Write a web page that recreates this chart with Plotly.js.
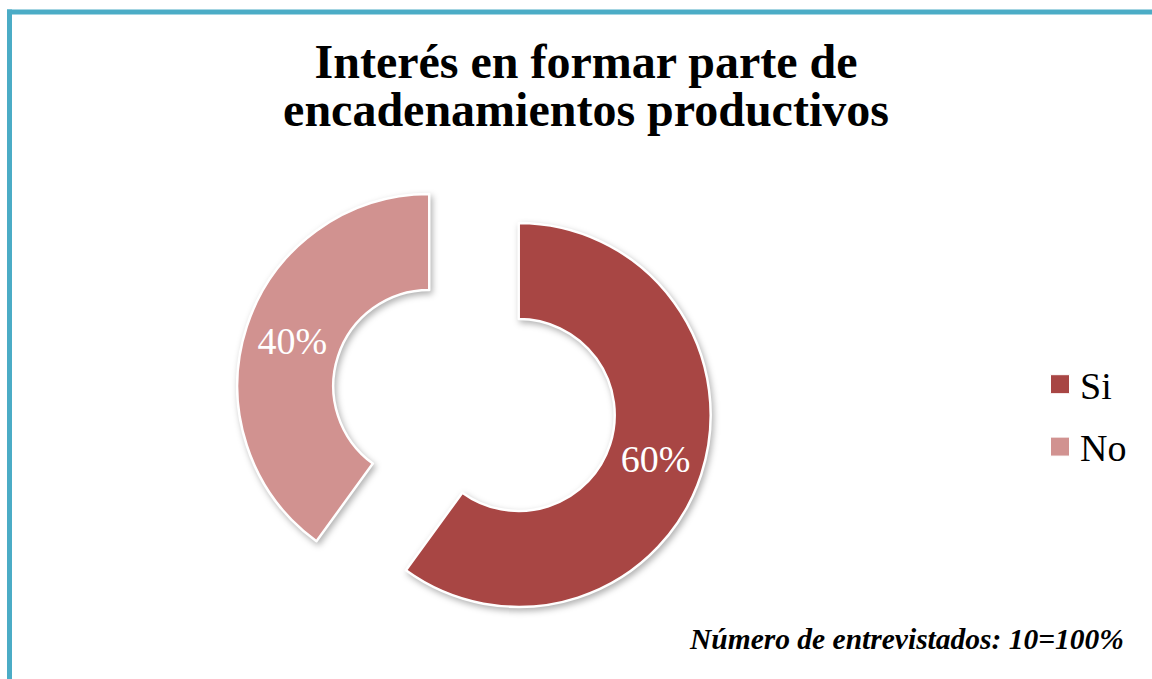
<!DOCTYPE html>
<html>
<head>
<meta charset="utf-8">
<script src="https://cdn.plot.ly/plotly-3.0.1.min.js"></script>
<style>
  html, body { margin: 0; padding: 0; background: #ffffff; }
  #chart { width: 1152px; height: 679px; }
  .slice path.surface { filter: drop-shadow(2px 3px 3px rgba(0,0,0,0.30)); }
  .legend path.legendpie { d: path("M9.5,9.5H-9.5V-9.5H9.5Z"); }
</style>
</head>
<body>
<div id="chart"></div>
<script>
// Data
const categories = ["Si", "No"];
const counts = [6, 4];
const sliceColors = ["#A84644", "#D19290"];
const titleText = "Interés en formar parte de<br>encadenamientos productivos";
const noteText = "<b><i>Número de entrevistados: 10=100%</i></b>";

const W = 1152, H = 679;
const SERIF = "'Liberation Serif', 'Times New Roman', serif";

const trace = {
  type: "pie",
  labels: categories,
  values: counts,
  sort: false,
  direction: "clockwise",
  rotation: 0,
  hole: 0.5,
  pull: [0.245, 0.245],
  marker: { colors: sliceColors, line: { color: "#ffffff", width: 2.5 } },
  textinfo: "percent",
  texttemplate: "%{percent:.0%}",
  textposition: "inside",
  insidetextorientation: "horizontal",
  textfont: { family: SERIF, size: 38, color: "#ffffff" },
  hoverinfo: "skip",
  domain: { x: [0.2040, 0.6189], y: [0.0582, 0.7622] }
};

const layout = {
  width: W, height: H,
  margin: { l: 0, r: 0, t: 0, b: 0, autoexpand: false },
  paper_bgcolor: "#ffffff",
  font: { family: SERIF, color: "#000000" },
  title: {
    text: "<b>" + titleText.replace("<br>", "</b><br><b>") + "</b>",
    font: { family: SERIF, size: 48, color: "#000000" },
    x: 0.5087, xanchor: "center", xref: "paper",
    y: 1 - 78 / H, yanchor: "top", yref: "container"
  },
  showlegend: true,
  legend: {
    x: 1040 / W, xanchor: "left",
    y: (H - 358) / H, yanchor: "top",
    font: { family: SERIF, size: 38, color: "#000000" },
    bgcolor: "rgba(0,0,0,0)",
    traceorder: "normal"
  },
  annotations: [{
    text: noteText,
    xref: "paper", yref: "paper",
    x: 1126 / W, xanchor: "right",
    y: (H - 657) / H, yanchor: "bottom",
    showarrow: false,
    font: { family: SERIF, size: 29.5, color: "#000000" }
  }],
  shapes: [
    { type: "line", xref: "paper", yref: "paper",
      x0: 7 / W, x1: 1, y0: 1 - 12 / H, y1: 1 - 12 / H,
      line: { color: "#4BACC6", width: 5 } },
    { type: "line", xref: "paper", yref: "paper",
      x0: 9.5 / W, x1: 9.5 / W, y0: 1 - 9.5 / H, y1: 0,
      line: { color: "#4BACC6", width: 5 } }
  ]
};

function enlargeSwatches(gd) {
  gd.querySelectorAll(".legendpie").forEach(function (p) {
    p.setAttribute("d", "M9.5,9.5H-9.5V-9.5H9.5Z");
    p.style.strokeWidth = "1px";
  });
}

Plotly.newPlot("chart", [trace], layout, { displayModeBar: false, staticPlot: true }).then(function (gd) {
  // tighten title line spacing to 1em like the original
  const lines = gd.querySelectorAll(".gtitle tspan.line");
  for (let i = 1; i < lines.length; i++) lines[i].setAttribute("dy", "1em");
  // spread legend items a little further apart, like the original
  const sb = gd.querySelector(".legend .scrollbox");
  if (sb) sb.removeAttribute("clip-path");
  const items = gd.querySelectorAll(".legend .traces");
  items.forEach(function (el, i) {
    const t = el.getAttribute("transform") || "";
    const m = t.match(/translate\(\s*([-\d.]+)[ ,]+([-\d.]+)\s*\)/);
    if (m) {
      const dy = (i === 0 ? -5 : 5);
      el.setAttribute("transform", "translate(" + m[1] + "," + (parseFloat(m[2]) + dy) + ")");
    }
  });
  enlargeSwatches(gd);
  setTimeout(function () { enlargeSwatches(gd); }, 200);
});
</script>
</body>
</html>
